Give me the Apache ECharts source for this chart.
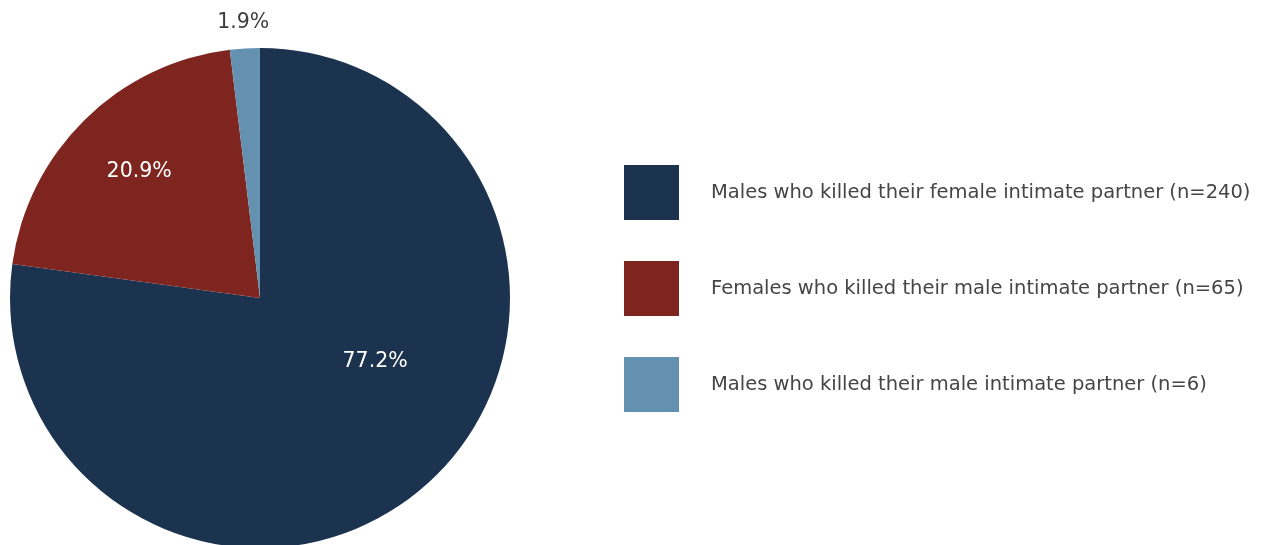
<!DOCTYPE html>
<html>
<head>
<meta charset="utf-8">
<script src="https://cdn.jsdelivr.net/npm/echarts@6/dist/echarts.min.js"></script>
<style>
html,body{margin:0;padding:0;background:#fff;}
#chart{width:1265px;height:545px;}
</style>
</head>
<body>
<div id="chart"></div>
<script>
const categories = [
  'Males who killed their female intimate partner (n=240)',
  'Females who killed their male intimate partner (n=65)',
  'Males who killed their male intimate partner (n=6)'
];
const counts = [240, 65, 6];
const colors = ['#1c3350', '#7f2520', '#6391af'];

// label offsets from the default inside position (style only)
const labelShift = [[31, -33], [-31, -35], [-9, -148]];
const labelColors = ['#ffffff', '#ffffff', '#3d3d3d'];

const chart = echarts.init(document.getElementById('chart'));
chart.setOption({
  animation: false,
  legend: {
    orient: 'vertical',
    left: 619,
    top: 160,
    itemWidth: 55,
    itemHeight: 55,
    itemGap: 41,
    icon: 'rect',
    data: categories,
    textStyle: {
      fontFamily: 'DejaVu Sans',
      fontSize: 19.5,
      color: '#454545',
      padding: [0, 0, 0, 27]
    }
  },
  series: [{
    type: 'pie',
    center: [260, 298],
    radius: 250,
    startAngle: 90,
    clockwise: true,
    percentPrecision: 1,
    label: {
      show: true,
      position: 'inside',
      formatter: '{d}%',
      fontFamily: 'DejaVu Sans',
      fontSize: 20.5,
      color: '#fff'
    },
    labelLine: { show: false },
    labelLayout: function (p) {
      return { dx: labelShift[p.dataIndex][0], dy: labelShift[p.dataIndex][1] };
    },
    emphasis: { disabled: true },
    itemStyle: { borderWidth: 0 },
    data: categories.map((c, i) => ({
      name: c,
      value: counts[i],
      itemStyle: { color: colors[i] },
      label: { color: labelColors[i] }
    }))
  }]
});
</script>
</body>
</html>
